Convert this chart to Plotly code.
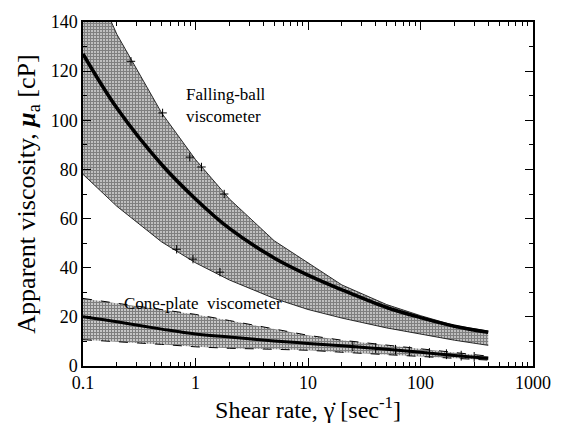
import plotly.graph_objects as go

# Shear rate grid (sec^-1)
shear = [0.1, 0.2, 0.5, 1, 2, 5, 10, 20, 50, 100, 200, 400]

# Falling-ball viscometer (cP)
fb_center = [127, 105, 82, 68, 56, 44, 37, 31, 23.8, 19.7, 16.2, 13.7]
fb_upper = [166, 135, 103, 84, 68, 51, 42, 33, 25, 20.5, 16.5, 14.2]
fb_lower = [78, 65, 50.5, 42, 35, 27.5, 23, 19.5, 15.5, 13, 10.5, 8.4]

# Cone-plate viscometer (cP)
cp_center = [20, 18, 15, 13, 11.8, 10.2, 9.2, 8.2, 6.8, 5.6, 4.3, 3.2]
cp_upper = [27.5, 25.5, 23, 21, 18.5, 15, 12.5, 10.5, 8.5, 7.2, 5.5, 4]
cp_lower = [10.7, 10, 8.8, 7.8, 7.2, 6.8, 6.4, 5.6, 4.6, 3.8, 3, 2.4]

# measured points marked with "+" on the band edges
fb_mark_x = [0.267, 0.51, 0.89, 1.13, 1.8, 0.68, 0.95, 1.65]
fb_mark_y = [124, 103, 85, 81, 70, 47.5, 43.5, 38.2]
cp_mark_x = [25, 40, 60, 80, 120, 170, 230, 300]
cp_mark_y = [8.0, 7.3, 6.6, 6.0, 5.3, 4.8, 4.2, 3.7]

fig = go.Figure()

# Falling-ball band
fig.add_trace(go.Scatter(x=shear, y=fb_lower, mode="lines",
                         line=dict(color="black", width=0.8), showlegend=False))
fig.add_trace(go.Scatter(x=shear, y=fb_upper, mode="lines", fill="tonexty",
                         fillcolor="white",
                         fillpattern=dict(shape="+", size=3, solidity=0.8,
                                          fgcolor="black", bgcolor="white"),
                         line=dict(color="black", width=0.8), showlegend=False))
fig.add_trace(go.Scatter(x=shear, y=fb_center, mode="lines", line_shape="spline",
                         line=dict(color="black", width=3.5), showlegend=False))

# Cone-plate band
fig.add_trace(go.Scatter(x=shear, y=cp_lower, mode="lines",
                         line=dict(color="black", width=1, dash="dash"), showlegend=False))
fig.add_trace(go.Scatter(x=shear, y=cp_upper, mode="lines", fill="tonexty",
                         fillcolor="white",
                         fillpattern=dict(shape="+", size=3, solidity=0.75,
                                          fgcolor="black", bgcolor="white"),
                         line=dict(color="black", width=1, dash="dash"), showlegend=False))
fig.add_trace(go.Scatter(x=shear, y=cp_center, mode="lines", line_shape="spline",
                         line=dict(color="black", width=3), showlegend=False))

# markers
fig.add_trace(go.Scatter(x=fb_mark_x, y=fb_mark_y, mode="markers",
                         marker=dict(symbol="cross-thin", size=6,
                                     line=dict(color="black", width=1)),
                         showlegend=False))
fig.add_trace(go.Scatter(x=cp_mark_x, y=cp_mark_y, mode="markers",
                         marker=dict(symbol="cross-thin", size=7,
                                     line=dict(color="black", width=1)),
                         showlegend=False))

serif = "Liberation Serif, serif"

fig.add_annotation(x=-0.1, y=106, xref="x", yref="y",
                   text="Falling-ball<br>viscometer", showarrow=False,
                   xanchor="left", align="left",
                   font=dict(family=serif, size=17, color="black"))
fig.add_annotation(x=-0.65, y=25.5, xref="x", yref="y",
                   text="Cone-plate  viscometer", showarrow=False,
                   xanchor="left", align="left",
                   font=dict(family=serif, size=17, color="black"))

fig.update_layout(
    width=568, height=428,
    margin=dict(l=83, r=35, t=14, b=62),
    paper_bgcolor="white", plot_bgcolor="white",
    font=dict(family=serif, size=18, color="black"),
    xaxis=dict(type="log", range=[-1, 3],
               showgrid=False, zeroline=False,
               showline=True, linecolor="black", linewidth=1.5, mirror="ticks",
               ticks="inside", ticklen=8, tickwidth=1.2, tickcolor="black",
               tickvals=[0.1, 1, 10, 100, 1000],
               ticktext=["0.1", "1", "10", "100", "1000"],
               tickfont=dict(family=serif, size=18),
               minor=dict(ticks="inside", ticklen=4, tickwidth=1, tickcolor="black",
                          tickvals=[0.2, 0.3, 0.4, 0.5, 0.6, 0.7, 0.8, 0.9,
                                    2, 3, 4, 5, 6, 7, 8, 9,
                                    20, 30, 40, 50, 60, 70, 80, 90,
                                    200, 300, 400, 500, 600, 700, 800, 900]),
               title=dict(text="Shear rate, γ̇ [sec<sup>-1</sup>]",
                          font=dict(family=serif, size=24), standoff=6)),
    yaxis=dict(range=[0, 140],
               showgrid=False, zeroline=False,
               showline=True, linecolor="black", linewidth=1.5, mirror="ticks",
               ticks="inside", ticklen=8, tickwidth=1.2, tickcolor="black",
               dtick=20,
               tickfont=dict(family=serif, size=18),
               minor=dict(ticks="inside", ticklen=4, tickwidth=1, tickcolor="black",
                          dtick=10),
               title=dict(text="Apparent viscosity, <b><i>μ</i></b><sub>a</sub> [cP]",
                          font=dict(family=serif, size=26), standoff=8)),
)

fig.write_html("out.html")
